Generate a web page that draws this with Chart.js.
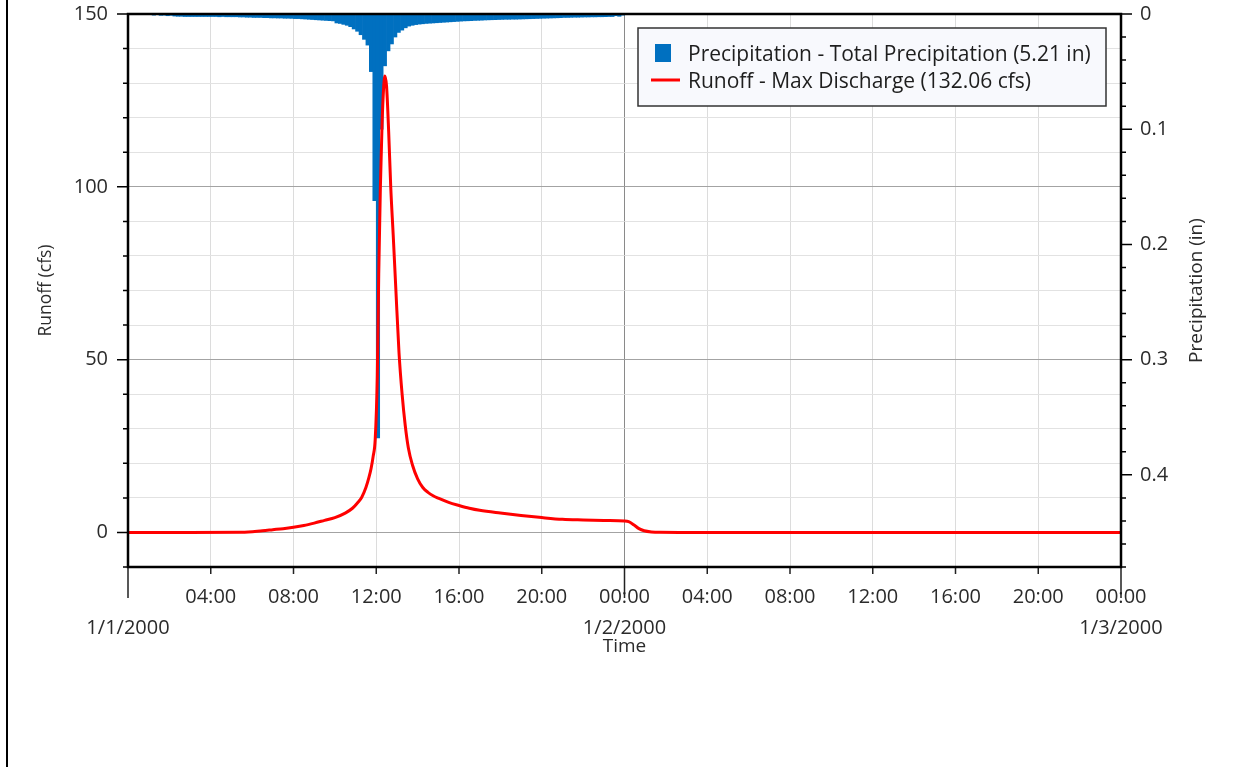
<!DOCTYPE html>
<html>
<head>
<meta charset="utf-8">
<script src="https://cdn.jsdelivr.net/npm/chart.js@4.4.1/dist/chart.umd.min.js"></script>
<style>
  html, body { margin: 0; padding: 0; background: #fff; }
  #wrap { position: relative; width: 1254px; height: 767px; }
  #edge { position: absolute; left: 6px; top: 0; width: 2px; height: 767px; background: #000; }
  canvas { position: absolute; left: 0; top: 0; }
</style>
</head>
<body>
<div id="wrap">
  <canvas id="hydro" width="1254" height="767"></canvas>
  <div id="edge"></div>
</div>
<script>
// precipitation depth per 10 minute step (in), day 1, one row per hour
const precipStepMinutes = 10;
const precipIn = [
  0, 0, 0, 0, 0, 0,
  0, 0.001, 0, 0.0012, 0.001, 0.0015,
  0.0012, 0.0018, 0.002, 0.002, 0.0022, 0.0022,
  0.0022, 0.0022, 0.0022, 0.0022, 0.0022, 0.0022,
  0.0022, 0.0022, 0.0024, 0.0022, 0.0024, 0.0024,
  0.0024, 0.0024, 0.0026, 0.0026, 0.0028, 0.0028,
  0.003, 0.003, 0.003, 0.0032, 0.0032, 0.0034,
  0.0034, 0.0035, 0.0035, 0.0037, 0.0037, 0.0038,
  0.004, 0.004, 0.0042, 0.0044, 0.0046, 0.0048,
  0.005, 0.0052, 0.0054, 0.0056, 0.0058, 0.006,
  0.0078, 0.0082, 0.009, 0.0098, 0.011, 0.013,
  0.015, 0.018, 0.022, 0.027, 0.05, 0.162,
  0.368, 0.1, 0.045, 0.032, 0.026, 0.02,
  0.016, 0.014, 0.012, 0.0105, 0.0098, 0.0092,
  0.0088, 0.0085, 0.0082, 0.008, 0.0078, 0.0076,
  0.0074, 0.0072, 0.007, 0.0068, 0.0066, 0.0064,
  0.0062, 0.006, 0.0059, 0.0058, 0.0056, 0.0055,
  0.0054, 0.0052, 0.0051, 0.005, 0.0049, 0.0048,
  0.0047, 0.0046, 0.0046, 0.0045, 0.0045, 0.0044,
  0.0043, 0.0042, 0.0041, 0.004, 0.0039, 0.0038,
  0.0037, 0.0036, 0.0035, 0.0034, 0.0033, 0.0032,
  0.003, 0.003, 0.0029, 0.0028, 0.0028, 0.0027,
  0.0026, 0.0026, 0.0025, 0.0025, 0.0024, 0.0024,
  0.0023, 0.0022, 0.0022, 0.0015, 0.002, 0.001
];

// runoff hydrograph, hours from 1/1/2000 00:00
const runoffHours = [0, 3, 5.5, 6.5, 7, 7.5, 8, 8.5, 9, 9.5,
  10, 10.5, 10.85, 11.1, 11.3, 11.5, 11.65, 11.75, 11.85, 11.95,
  12.05, 12.12, 12.2, 12.28, 12.35, 12.42, 12.5, 12.6, 12.7, 12.82,
  12.95, 13.1, 13.25, 13.4, 13.55, 13.75, 14, 14.25, 14.5, 14.75,
  15, 15.5, 16, 16.5, 17, 18, 19, 20, 21, 22,
  23, 24, 24.2, 24.45, 24.7, 24.95, 25.3, 25.7, 27, 36, 48];
const runoffCfs = [0, 0, 0.05, 0.5, 0.8, 1.1, 1.5, 2.0, 2.7, 3.5,
  4.3, 5.6, 7.0, 8.6, 10.2, 13, 16, 18.5, 22, 27,
  45, 75, 100, 118, 128, 132.06, 129, 116, 100, 86,
  70, 52, 40, 31, 24.5, 19.5, 15.5, 13, 11.6, 10.6,
  9.9, 8.7, 7.8, 7.0, 6.4, 5.6, 4.9, 4.3, 3.8, 3.6,
  3.45, 3.3, 3.1, 2.2, 1.1, 0.5, 0.15, 0.03, 0, 0, 0];

const dayLabels = ['1/1/2000', '1/2/2000', '1/3/2000'];
const seriesLabels = ['Precipitation - Total Precipitation (5.21 in)', 'Runoff - Max Discharge (132.06 cfs)'];

const FONT = '"Open Sans", "Noto Sans", sans-serif';
const TEXT = '#2b2b2b';
Chart.defaults.font.family = FONT;
Chart.defaults.color = TEXT;

const precipPoints = precipIn.map((v, i) => ({ x: (i + 0.5) * precipStepMinutes / 60, y: v }));
const runoffPoints = runoffHours.map((h, i) => ({ x: h, y: runoffCfs[i] }));

function pad2(n) { return (n < 10 ? '0' : '') + n; }

// plot frame, tick marks and right axis title
const frame = {
  id: 'frame',
  afterDatasetsDraw(chart) {
    const { ctx, chartArea: a, scales } = chart;
    ctx.save();
    ctx.strokeStyle = '#000';
    ctx.lineWidth = 1.5;
    ctx.beginPath();
    scales.y.ticks.forEach(t => {
      const py = scales.y.getPixelForValue(t.value);
      const len = t.value % 50 === 0 ? 11 : 5;
      ctx.moveTo(a.left - len, py); ctx.lineTo(a.left, py);
    });
    scales.yP.ticks.forEach(t => {
      const py = scales.yP.getPixelForValue(t.value);
      const len = Math.round(t.value * 100) % 10 === 0 ? 11 : 5;
      ctx.moveTo(a.right, py); ctx.lineTo(a.right + len, py);
    });
    ctx.stroke();
    ctx.strokeStyle = '#222';
    ctx.beginPath();
    scales.x.ticks.forEach(t => {
      const px = scales.x.getPixelForValue(t.value);
      const len = t.value % 24 === 0 ? 31 : 7;
      ctx.moveTo(px, a.bottom); ctx.lineTo(px, a.bottom + len);
    });
    ctx.stroke();
    ctx.strokeStyle = '#000';
    ctx.lineWidth = 2.5;
    ctx.strokeRect(a.left, a.top, a.right - a.left, a.bottom - a.top);

    ctx.fillStyle = TEXT;
    ctx.font = '19px ' + FONT;
    ctx.textAlign = 'center';
    ctx.textBaseline = 'middle';
    ctx.translate(scales.yP.left + 76, (a.top + a.bottom) / 2);
    ctx.rotate(-Math.PI / 2);
    ctx.fillText('Precipitation (in)', 0, 0);
    ctx.restore();
  }
};

// boxed legend in the top right of the plot
const boxLegend = {
  id: 'boxLegend',
  afterDraw(chart) {
    const { ctx, chartArea: a } = chart;
    const ds = chart.data.datasets;
    const w = 468, h = 78;
    const x = a.right - 15 - w, y = a.top + 14;
    ctx.save();
    ctx.fillStyle = '#f8f9fd';
    ctx.fillRect(x, y, w, h);
    ctx.strokeStyle = '#333';
    ctx.lineWidth = 1.5;
    ctx.strokeRect(x, y, w, h);

    ctx.fillStyle = ds[0].backgroundColor;
    ctx.fillRect(x + 17, y + 16, 16, 18);
    ctx.strokeStyle = ds[1].borderColor;
    ctx.lineWidth = 3;
    ctx.beginPath();
    ctx.moveTo(x + 13, y + 52); ctx.lineTo(x + 42, y + 52);
    ctx.stroke();

    ctx.fillStyle = '#1e1e1e';
    ctx.font = '21px ' + FONT;
    ctx.textAlign = 'left';
    ctx.textBaseline = 'middle';
    ctx.fillText(ds[0].label, x + 50, y + 27);
    ctx.fillText(ds[1].label, x + 50, y + 54);
    ctx.restore();
  }
};

function noEdgePadding(s) {
  s.paddingTop = 0;
  s.paddingBottom = 0;
}

const ctx = document.getElementById('hydro').getContext('2d');
const chart = new Chart(ctx, {
  type: 'bar',
  data: {
    datasets: [{
      type: 'bar',
      label: seriesLabels[0],
      data: precipPoints,
      yAxisID: 'yP',
      backgroundColor: '#0070c0',
      borderWidth: 0,
      barPercentage: 1,
      categoryPercentage: 1,
      order: 2
    }, {
      type: 'line',
      label: seriesLabels[1],
      data: runoffPoints,
      yAxisID: 'y',
      borderColor: '#ff0000',
      borderWidth: 3,
      pointRadius: 0,
      cubicInterpolationMode: 'monotone',
      fill: false,
      order: 1
    }]
  },
  options: {
    responsive: false,
    animation: false,
    layout: { padding: { left: 32, right: 0, top: 14, bottom: 105 } },
    scales: {
      x: {
        type: 'linear',
        min: 0,
        max: 48,
        offset: false,
        border: { display: false },
        grid: {
          offset: false,
          drawTicks: false,
          color: c => c.tick && c.tick.value % 24 === 0 ? '#8a8a8a' : '#dcdcdc',
          lineWidth: 1
        },
        ticks: {
          stepSize: 4,
          autoSkip: false,
          maxRotation: 0,
          padding: 15,
          font: { size: 20, lineHeight: 1.55 },
          callback: v => {
            if (v % 24 === 0) return [v === 0 ? '' : '00:00', dayLabels[v / 24]];
            return pad2(v % 24) + ':00';
          }
        },
        title: { display: true, text: 'Time', font: { size: 19 }, padding: { top: 0, bottom: 4 } },
        afterFit: s => { s.height = 95; }
      },
      y: {
        position: 'left',
        min: -10,
        max: 150,
        border: { display: false },
        grid: {
          drawTicks: false,
          color: c => c.tick && c.tick.value % 50 === 0 ? '#a3a3a3' : '#e2e2e2'
        },
        ticks: {
          stepSize: 10,
          autoSkip: false,
          padding: 20,
          font: { size: 20 },
          callback: v => v % 50 === 0 ? String(v) : ''
        },
        title: { display: true, text: 'Runoff (cfs)', font: { size: 17.5 } },
        afterFit: s => { s.width = 96; noEdgePadding(s); }
      },
      yP: {
        position: 'right',
        reverse: true,
        min: 0,
        max: 0.48,
        border: { display: false },
        grid: { display: false, drawTicks: false },
        ticks: {
          stepSize: 0.02,
          autoSkip: false,
          padding: 19,
          font: { size: 20 },
          callback: v => {
            const k = Math.round(v * 100);
            if (k % 10 !== 0) return '';
            return k === 0 ? '0' : (k / 100).toFixed(1);
          }
        },
        afterFit: s => { s.width = 133; noEdgePadding(s); }
      }
    },
    plugins: {
      legend: { display: false },
      tooltip: { enabled: false }
    }
  },
  plugins: [frame, boxLegend]
});
</script>
</body>
</html>
